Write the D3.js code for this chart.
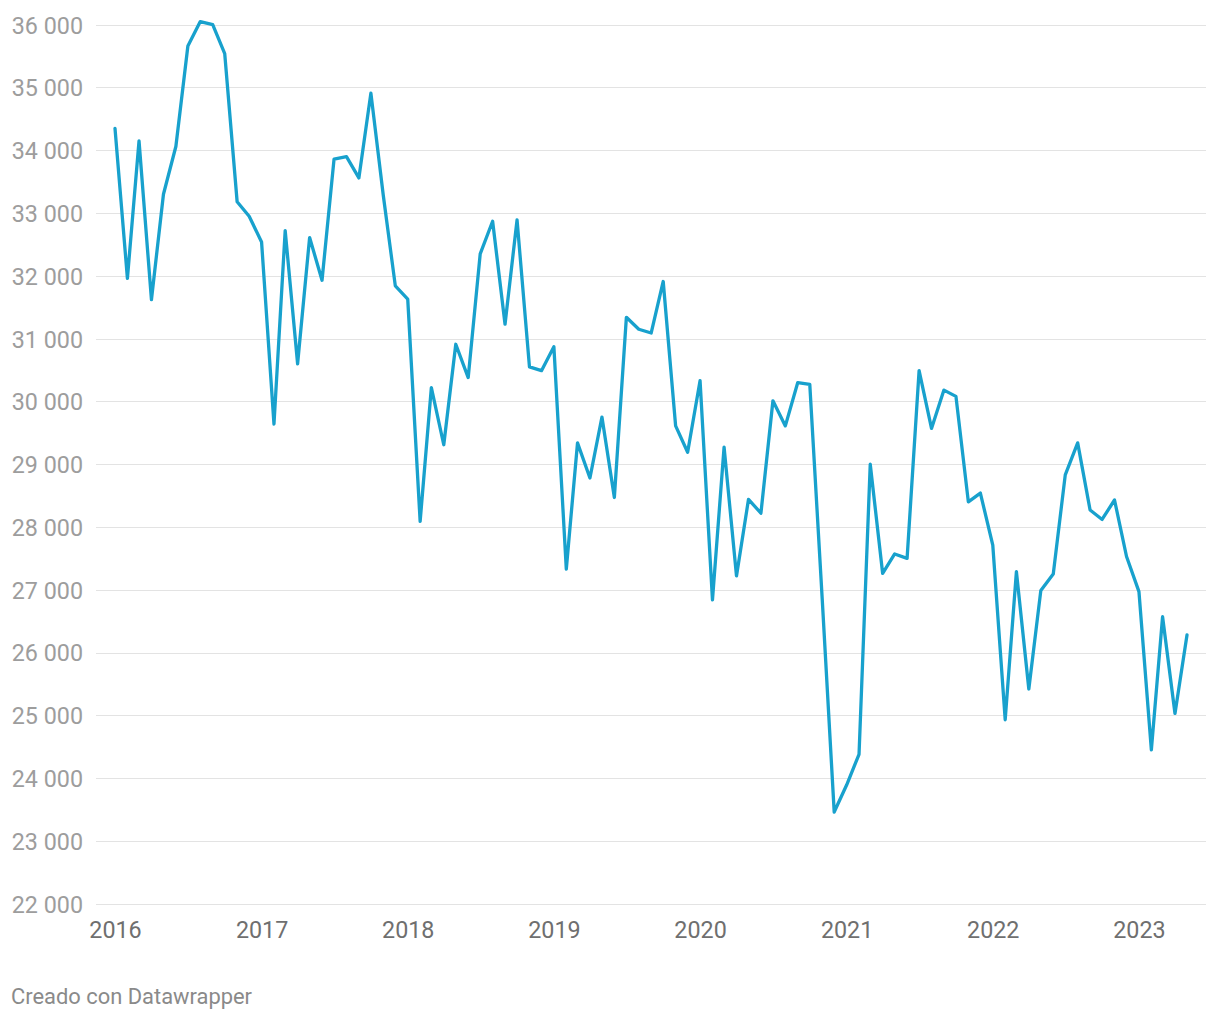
<!DOCTYPE html>
<html>
<head>
<meta charset="utf-8">
<script src="https://cdn.jsdelivr.net/npm/d3@7"></script>
<style>
  html, body { margin: 0; padding: 0; background: #ffffff; }
  svg { display: block; }
</style>
</head>
<body>
<svg id="chart" width="1220" height="1020"></svg>
<script>
// ---- DATA ----
const startYear = 2016;
const startMonth = 0; // January
const values = [
  34350, 31960, 34150, 31620, 33300, 34060, 35660, 36050, 36000, 35540, 33180, 32950,
  32540, 29640, 32720, 30600, 32610, 31930, 33860, 33900, 33560, 34910, 33280, 31840,
  31630, 28090, 30220, 29310, 30910, 30380, 32350, 32870, 31230, 32890, 30550, 30490,
  30870, 27330, 29340, 28780, 29750, 28470, 31340, 31150, 31090, 31910, 29610, 29190,
  30330, 26840, 29270, 27220, 28440, 28220, 30010, 29610, 30300, 30270, 26860, 23460,
  23890, 24380, 29000, 27260, 27570, 27500, 30490, 29570, 30180, 30080, 28400, 28540,
  27710, 24930, 27290, 25420, 26990, 27250, 28830, 29340, 28270, 28120, 28430, 27530,
  26970, 24450, 26570, 25030, 26280
];
const yTicks = [22000, 23000, 24000, 25000, 26000, 27000, 28000, 29000, 30000, 31000, 32000, 33000, 34000, 35000, 36000];
const xTickYears = [2016, 2017, 2018, 2019, 2020, 2021, 2022, 2023];
const footerText = "Creado con Datawrapper";

// ---- BUILD ----
const data = values.map((v, i) => ({ date: new Date(startYear, startMonth + i, 1), value: v }));

const svg = d3.select("#chart");
const FONT = "Roboto, 'Noto Sans', sans-serif";

const x = d3.scaleTime()
  .domain([data[0].date, data[data.length - 1].date])
  .range([115, 1187]);

const y = d3.scaleLinear()
  .domain([22000, 36000])
  .range([903.7, 24.7]);

const locale = d3.formatLocale({ decimal: ",", thousands: " ", grouping: [3], currency: ["", "€"] });
const fmt = locale.format(",d");

// gridlines
const grid = svg.append("g").attr("class", "grid");
grid.selectAll("line")
  .data(yTicks)
  .join("line")
  .attr("x1", 96)
  .attr("x2", 1206)
  .attr("y1", d => Math.round(y(d)) + 0.5)
  .attr("y2", d => Math.round(y(d)) + 0.5)
  .attr("stroke", "#e3e3e3")
  .attr("stroke-width", 1);

// y axis labels
const yAxis = d3.axisLeft(y).tickValues(yTicks).tickFormat(fmt).tickSize(0).tickPadding(0);
const yG = svg.append("g").attr("transform", "translate(83,0)").call(yAxis);
yG.select(".domain").remove();
yG.selectAll("text")
  .attr("font-family", FONT)
  .attr("font-size", 23.3)
  .attr("fill", "#9d9d9d")
  .attr("dy", "0.36em");

// x axis labels
const xAxis = d3.axisBottom(x)
  .tickValues(xTickYears.map(yr => new Date(yr, 0, 1)))
  .tickFormat(d3.timeFormat("%Y"))
  .tickSize(0).tickPadding(0);
const xG = svg.append("g").attr("transform", "translate(0,921)").call(xAxis);
xG.select(".domain").remove();
xG.selectAll("text")
  .attr("font-family", FONT)
  .attr("font-size", 23.3)
  .attr("fill", "#6f6f6f")
  .attr("dy", "0.71em");

// line
const line = d3.line()
  .x(d => x(d.date))
  .y(d => y(d.value));

svg.append("path")
  .datum(data)
  .attr("d", line)
  .attr("fill", "none")
  .attr("stroke", "#18a1cd")
  .attr("stroke-width", 3.3)
  .attr("stroke-linejoin", "round")
  .attr("stroke-linecap", "round");

// footer
svg.append("text")
  .attr("x", 11)
  .attr("y", 1004)
  .attr("font-family", FONT)
  .attr("font-size", 21.9)
  .attr("fill", "#8a8a8a")
  .text(footerText);
</script>
</body>
</html>
